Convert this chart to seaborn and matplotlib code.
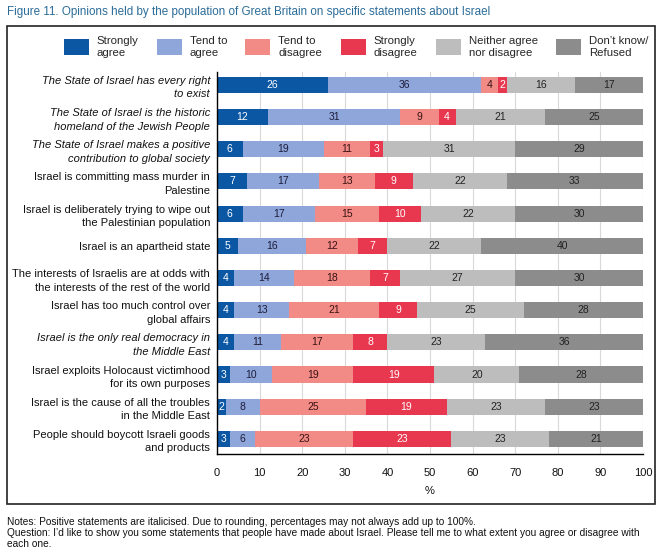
import matplotlib
matplotlib.use("Agg")
import matplotlib.pyplot as plt
import seaborn as sns
import numpy as np
from matplotlib.patches import Rectangle, Patch

# ---------------- data ----------------
statements = [
    "The State of Israel has every right\nto exist",
    "The State of Israel is the historic\nhomeland of the Jewish People",
    "The State of Israel makes a positive\ncontribution to global society",
    "Israel is committing mass murder in\nPalestine",
    "Israel is deliberately trying to wipe out\nthe Palestinian population",
    "Israel is an apartheid state",
    "The interests of Israelis are at odds with\nthe interests of the rest of the world",
    "Israel has too much control over\nglobal affairs",
    "Israel is the only real democracy in\nthe Middle East",
    "Israel exploits Holocaust victimhood\nfor its own purposes",
    "Israel is the cause of all the troubles\nin the Middle East",
    "People should boycott Israeli goods\nand products",
]
italic_flags = [True, True, True, False, False, False, False, False, True, False, False, False]

categories = ["Strongly\nagree", "Tend to\nagree", "Tend to\ndisagree",
              "Strongly\ndisagree", "Neither agree\nnor disagree", "Don\u2019t know/\nRefused"]

strongly_agree    = [26, 12, 6, 7, 6, 5, 4, 4, 4, 3, 2, 3]
tend_agree        = [36, 31, 19, 17, 17, 16, 14, 13, 11, 10, 8, 6]
tend_disagree     = [4, 9, 11, 13, 15, 12, 18, 21, 17, 19, 25, 23]
strongly_disagree = [2, 4, 3, 9, 10, 7, 7, 9, 8, 19, 19, 23]
neither           = [16, 21, 31, 22, 22, 22, 27, 25, 23, 20, 23, 23]
dont_know         = [17, 25, 29, 33, 30, 40, 30, 28, 36, 28, 23, 21]

xticks = list(range(0, 101, 10))

title = "Figure 11. Opinions held by the population of Great Britain on specific statements about Israel"
notes = "Notes: Positive statements are italicised. Due to rounding, percentages may not always add up to 100%."
question1 = ("Question: I\u2019d like to show you some statements that people have made about Israel. "
             "Please tell me to what extent you agree or disagree with")
question2 = "each one."

# ---------------- style ----------------
colors = ["#0b57a4", "#8fa6da", "#f28b86", "#e8384f", "#bdbdbd", "#8c8c8c"]
label_colors = ["white", "#1c1c3a", "#3a1212", "white", "#222222", "#222222"]

sns.set_theme(style="white")
plt.rcParams['font.family'] = ['Liberation Sans', 'DejaVu Sans']

series = [strongly_agree, tend_agree, tend_disagree, strongly_disagree, neither, dont_know]
vals = np.array(series)
cum = np.cumsum(vals, axis=0)
# the last category fills the rest of the 100% scale (rounding)
ends = cum.copy()
ends[-1] = np.maximum(cum[-1], 100)

W, H = 672, 559
fig = plt.figure(figsize=(W / 100, H / 100), dpi=100)
fig.patch.set_facecolor("white")
ax = fig.add_axes([217 / W, 1 - 454 / H, (643 - 217) / W, (454 - 72) / H])

for k in reversed(range(len(series))):
    sns.barplot(x=ends[k], y=statements, orient="h", color=colors[k],
                saturation=1, width=0.5, linewidth=0, ax=ax, zorder=2)

# value labels
for k in range(len(series)):
    for i in range(len(statements)):
        start = cum[k][i] - vals[k][i]
        end = min(ends[k][i], 100)
        ax.text((start + end) / 2, i, str(vals[k][i]), ha="center", va="center",
                fontsize=7.5, color=label_colors[k], zorder=3)

ax.set_xlim(0, 100)
ax.set_ylim(len(statements) - 1 + 0.47, -0.4)
ax.set_xticks(xticks)
ax.set_xticklabels([str(t) for t in xticks])
ax.xaxis.grid(True, color="#d9d9d9", linewidth=0.8)
ax.yaxis.grid(False)
ax.set_axisbelow(True)
for s in ["top", "right"]:
    ax.spines[s].set_visible(False)
for s in ["left", "bottom"]:
    ax.spines[s].set_color("black")
    ax.spines[s].set_linewidth(1.0)
ax.tick_params(axis="y", length=0, pad=5, labelsize=8.0, labelcolor="#111111")
ax.tick_params(axis="x", length=0, pad=10, labelsize=8, labelcolor="#111111")
for lbl, it in zip(ax.get_yticklabels(), italic_flags):
    lbl.set_linespacing(1.45)
    if it:
        lbl.set_fontstyle("italic")
ax.set_ylabel("")
ax.set_xlabel("%", fontsize=8, labelpad=6, color="#111111")

# legend
handles = [Patch(facecolor=c, edgecolor="none") for c in colors]
leg = fig.legend(handles, categories, ncol=6, loc="center", bbox_to_anchor=(356 / W, 1 - 47 / H),
                 frameon=False, fontsize=8.2, handlelength=2.2, handleheight=1.8,
                 columnspacing=1.6, handletextpad=0.7)
for t in leg.get_texts():
    t.set_linespacing(1.25)

# frame
fig.add_artist(Rectangle((7 / W, 1 - 504 / H), 648 / W, (504 - 26) / H,
                         transform=fig.transFigure, fill=False,
                         edgecolor="#222222", linewidth=1.2))

fig.text(7 / W, 1 - 12 / H, title, color="#2b6c99", fontsize=8.4, va="center", ha="left")
fig.text(7 / W, 1 - 522 / H, notes, fontsize=7.3, va="center", ha="left", color="#111111")
fig.text(7 / W, 1 - 533 / H, question1, fontsize=7.3, va="center", ha="left", color="#111111")
fig.text(7 / W, 1 - 544 / H, question2, fontsize=7.3, va="center", ha="left", color="#111111")

fig.savefig("out.png", dpi=100)
